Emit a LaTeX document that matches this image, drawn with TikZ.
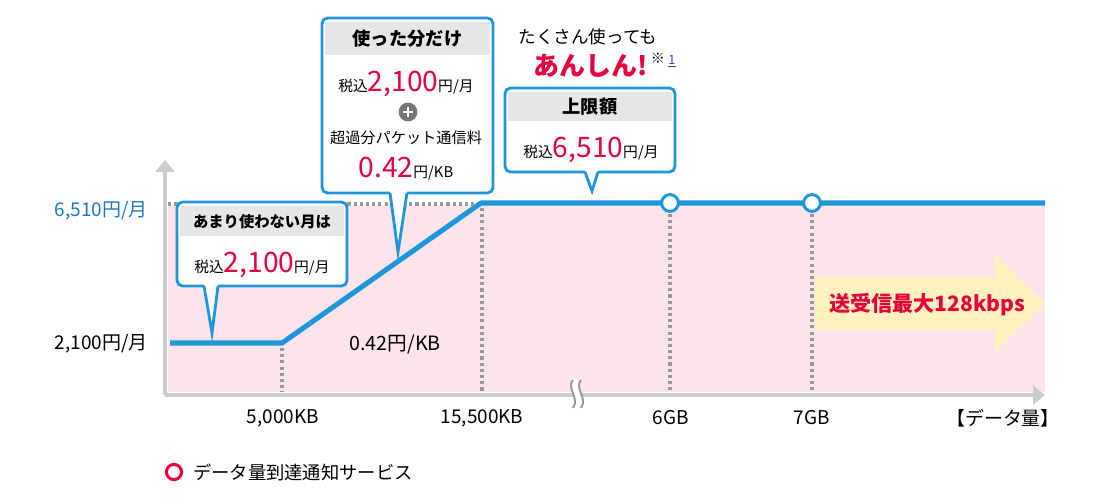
\documentclass[tikz,border=0pt]{standalone}
\usepackage{fontspec}
\setmainfont{Noto Sans CJK JP}
\usetikzlibrary{positioning,arrows.meta}
\definecolor{lineblue}{HTML}{1E96DC}
\definecolor{labelblue}{HTML}{1E78BE}
\definecolor{pricered}{HTML}{E6003C}
\definecolor{areapink}{HTML}{FCE4EA}
\definecolor{speedyellow}{HTML}{FFF2BF}
\definecolor{headgray}{HTML}{E6E6E6}
\definecolor{axisgray}{HTML}{CCCCCC}
\definecolor{dotgray}{HTML}{999999}
\definecolor{plusgray}{HTML}{777777}
\definecolor{notelink}{HTML}{1E50A0}
\newcommand{\unitsm}[1]{{\fontsize{10.5}{12}\selectfont #1}}
\newcommand{\pricebig}[1]{{\color{pricered}\fontsize{20}{22}\selectfont #1}}
\tikzset{
  every node/.style={inner sep=0pt},
  callbox/.style={draw=lineblue,line width=2pt,fill=white,rounded corners=4pt},
  callline/.style={draw=lineblue,line width=2pt},
  headbar/.style={fill=headgray,font=\bfseries\fontsize{13}{15}\selectfont},
  axisline/.style={draw=axisgray,line width=2.2pt,-{Triangle[width=13.5pt,length=8.5pt,fill=axisgray]}},
  dotline/.style={draw=dotgray,line width=2.2pt,dash pattern=on 2.2pt off 2.2pt},
  priceline/.style={draw=lineblue,line width=3.6pt,line join=round},
  notedot/.style={circle,draw=lineblue,line width=2.1pt,fill=white,minimum size=0.42cm},
  ticklabel/.style={font=\fontsize{13.5}{15}\selectfont},
  breakline/.style={draw=dotgray,line width=1.4pt},
}
\begin{document}
\begin{tikzpicture}[x=0.025cm,y=-0.025cm]
\useasboundingbox (0,0) rectangle (1100,500);
% area under the axes
\fill[areapink] (168,205) rectangle (1045,392);
\draw[dotline] (168,204) -- (480,204);
\draw[dotline] (282,348) -- (282,392);
\draw[dotline] (482,208) -- (482,392);
\draw[dotline] (670,214) -- (670,392);
\draw[dotline] (812,214) -- (812,392);
% speed arrow
\fill[speedyellow] (815,277) -- (995,277) -- (995,255) -- (1045,303.5)
  -- (995,352) -- (995,330) -- (815,330) -- cycle;
\node[font=\bfseries\fontsize{15}{17}\selectfont,text=pricered] (speed) at (927,305) {送受信最大128kbps};
% axes
\coordinate (origin) at (165,395);
\coordinate (ytop) at (165,160);
\coordinate (xend) at (1045,395);
\draw[axisline] (origin) -- (ytop);
\draw[axisline] (origin) -- (xend);
\draw[white,line width=5pt] (577,380) .. controls (570,388) and (584,398) .. (577,408);
\draw[breakline] (573,380) .. controls (566,388) and (580,398) .. (573,408);
\draw[breakline] (581,380) .. controls (574,388) and (588,398) .. (581,408);
% price line
\coordinate (p0) at (170,343);
\coordinate (p1) at (282,343);
\coordinate (p2) at (481,203);
\coordinate (p3) at (1045,203);
\draw[priceline] (p0) -- (p1) -- (p2) -- (p3);
\node[notedot] (gb6) at (670,203) {};
\node[notedot] (gb7) at (812,203) {};
% callout: low use
\node[callbox,minimum width=4.25cm,minimum height=2.1cm] (lowbox) at (262,244) {};
\coordinate (lowtip) at (212,333);
\fill[white] (204,284) -- (lowtip) -- (218,284) -- cycle;
\draw[callline] (204,286) -- (lowtip) -- (218,286);
\node[headbar,minimum width=4.1cm,minimum height=0.75cm,font=\bfseries\fontsize{10.9}{13}\selectfont,below=0.14cm of lowbox.north] (lowhead) {あまり使わない月は};
\node (lowprice) at (262,265) {\unitsm{税込}\pricebig{2,100}\unitsm{円/月}};
% callout: pay per use
\node[callbox,minimum width=4.275cm,minimum height=4.375cm] (usebox) at (407.5,105.5) {};
\coordinate (usetip) at (398,252);
\fill[white] (390,191) -- (usetip) -- (407,191) -- cycle;
\draw[callline] (390,193) -- (usetip) -- (407,193);
\node[headbar,minimum width=4.125cm,minimum height=0.825cm,below=0.12cm of usebox.north] (usehead) {使った分だけ};
\node (useprice) at (406,84) {\unitsm{税込}\pricebig{2,100}\unitsm{円/月}};
\node[circle,fill=plusgray,minimum size=0.47cm] (plus) at (408,112) {};
\draw[white,line width=2pt] ([xshift=-3.6pt]plus.center) -- ([xshift=3.6pt]plus.center);
\draw[white,line width=2pt] ([yshift=-3.6pt]plus.center) -- ([yshift=3.6pt]plus.center);
\node[font=\fontsize{10.8}{12}\selectfont] (usenote) at (406,138) {超過分パケット通信料};
\node (userate) at (406,169) {\pricebig{0.42}\unitsm{円/KB}};
% callout: cap
\node[callbox,minimum width=4.25cm,minimum height=2.1cm] (capbox) at (590,130) {};
\coordinate (captip) at (592,191);
\fill[white] (585,170) -- (captip) -- (598,170) -- cycle;
\draw[callline] (585,172) -- (captip) -- (598,172);
\node[headbar,minimum width=4.1cm,minimum height=0.725cm,below=0.14cm of capbox.north] (caphead) {上限額};
\node (capprice) at (591,150) {\unitsm{税込}\pricebig{6,510}\unitsm{円/月}};
% headline
\node[font=\fontsize{12.5}{14}\selectfont] (many) at (588,37) {たくさん使っても};
\node[font=\bfseries\fontsize{18.5}{20}\selectfont,text=pricered] (relief) at (591,66) {あんしん!};
\node[font=\fontsize{10}{11}\selectfont] (mark) at (658,58) {※};
\node[font=\fontsize{9}{10}\selectfont,text=notelink] (markno) at (672,61) {\underline{1}};
% axis labels
\node[ticklabel,anchor=east,text=labelblue] (ycap) at (148,211) {6,510円/月};
\node[ticklabel,anchor=east] (ybase) at (148,344) {2,100円/月};
\node[font=\fontsize{14}{16}\selectfont] (slope) at (395,344) {0.42円/KB};
\node[ticklabel] (kb5) at (283,418) {5,000KB};
\node[ticklabel] (kb15) at (482,418) {15,500KB};
\node[ticklabel] (lab6) at (671,418) {6GB};
\node[ticklabel] (lab7) at (812,418) {7GB};
\node[ticklabel] (xname) at (1003,418) {【データ量】};
% legend
\node[circle,draw=pricered,line width=2.1pt,minimum size=0.38cm] (legmark) at (174,472) {};
\node[font=\fontsize{13}{15}\selectfont,right=7pt of legmark] (legtext) {データ量到達通知サービス};
\end{tikzpicture}
\end{document}
